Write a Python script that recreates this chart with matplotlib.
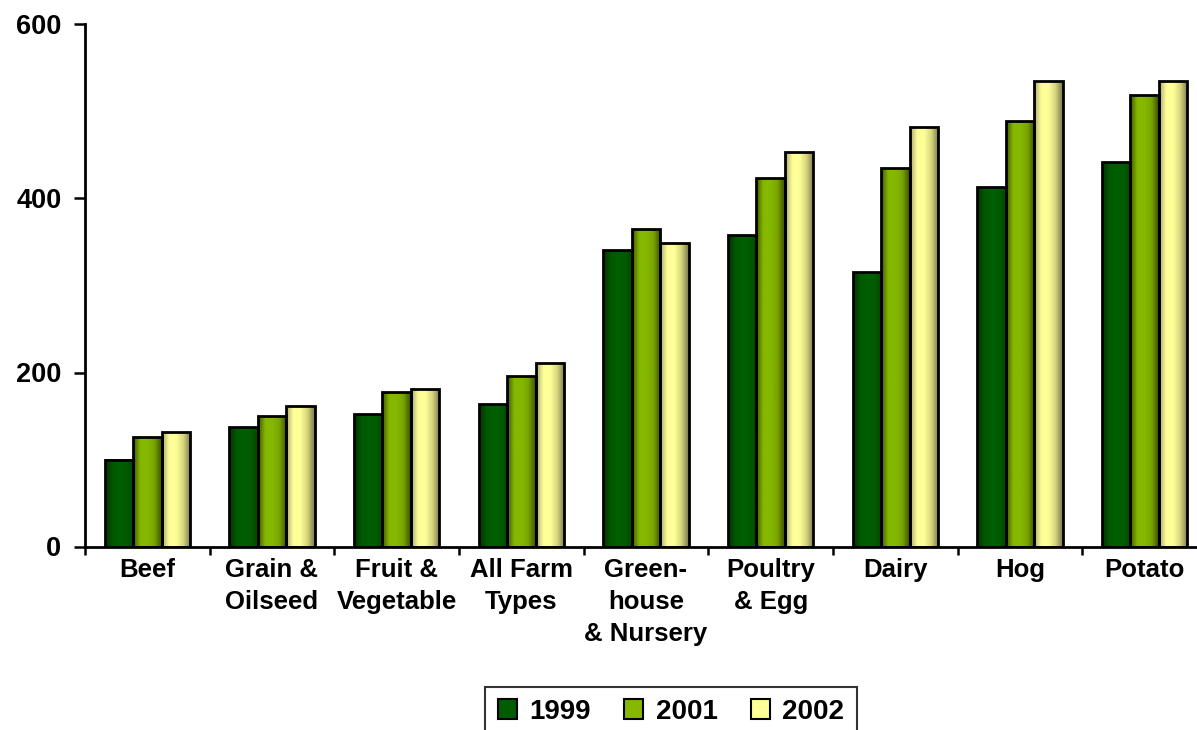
import numpy as np
import matplotlib
matplotlib.use("Agg")
import matplotlib.pyplot as plt
from matplotlib.colors import LinearSegmentedColormap
from matplotlib.patches import Patch

categories = ["Beef", "Grain &\nOilseed", "Fruit &\nVegetable", "All Farm\nTypes",
              "Green-\nhouse\n& Nursery", "Poultry\n& Egg", "Dairy", "Hog", "Potato"]
years = ["1999", "2001", "2002"]
v1999 = [100, 137, 152, 164, 341, 358, 315, 413, 442]
v2001 = [126, 150, 178, 196, 365, 424, 435, 489, 519]
v2002 = [132, 161, 181, 211, 349, 453, 482, 535, 535]
series = [v1999, v2001, v2002]

base_colors = ["#005c00", "#86b800", "#ffff99"]
# horizontal shading across each bar (left -> right)
shades = [
    ["#003200", "#005800", "#005e00", "#005c00", "#004a00"],
    ["#3f5800", "#86b800", "#86b800", "#78a400", "#3c5000"],
    ["#a8a870", "#ffff99", "#ffff99", "#d4d47c", "#7a7650"],
]

plt.rcParams["font.family"] = ["Liberation Sans", "DejaVu Sans"]
plt.rcParams["font.weight"] = "bold"

fig = plt.figure(figsize=(11.97, 7.30), dpi=100)
ax = fig.add_axes([85 / 1197, 1 - 546.5 / 730, 1122 / 1197, 522 / 730])

n = len(categories)
x = np.arange(n)
width = 0.228
grad = np.linspace(0, 1, 64).reshape(1, -1)

for i, vals in enumerate(series):
    pos = x + (i - 1) * width
    bars = ax.bar(pos, vals, width, color=base_colors[i], edgecolor="none", zorder=2)
    cmap = LinearSegmentedColormap.from_list(f"s{i}", shades[i])
    for b in bars:
        bx, bw, bh = b.get_x(), b.get_width(), b.get_height()
        im = ax.imshow(grad, cmap=cmap, aspect="auto", extent=[bx, bx + bw, 0, bh],
                       zorder=3, interpolation="bicubic")
        im.set_clip_path(b)
    ax.bar(pos, vals, width, fill=False, edgecolor="black", linewidth=2.0, zorder=4)

ax.set_xlim(-0.5, n - 0.5)
ax.set_ylim(0, 600)
ax.set_yticks([0, 200, 400, 600])
ax.set_yticklabels(["0", "200", "400", "600"], fontsize=19.5, fontweight="bold")
ax.set_xticks(x)
ax.set_xticklabels(categories, fontsize=18.5, fontweight="bold", linespacing=1.42)
ax.set_xticks(np.arange(n + 1) - 0.5, minor=True)
ax.tick_params(axis="x", which="major", length=0, pad=8)
ax.tick_params(axis="x", which="minor", length=6, width=1.8, direction="out")
ax.tick_params(axis="y", length=8, width=1.8, direction="out", pad=9)

for s in ["top", "right"]:
    ax.spines[s].set_visible(False)
for s in ["left", "bottom"]:
    ax.spines[s].set_linewidth(2)
    ax.spines[s].set_color("black")

handles = [Patch(facecolor=base_colors[i], edgecolor="black", linewidth=1.5) for i in range(3)]
leg = fig.legend(handles, years, loc="upper center", bbox_to_anchor=(671 / 1197, 1 - 686.5 / 730),
                 ncol=3, frameon=True, fancybox=False,
                 handlelength=0.68, handleheight=0.72, handletextpad=0.45, columnspacing=1.2,
                 borderpad=0.45, borderaxespad=0, prop={"weight": "bold", "size": 20})
leg.get_frame().set_edgecolor("black")
leg.get_frame().set_linewidth(1.5)

fig.savefig("out.png", dpi=100)
